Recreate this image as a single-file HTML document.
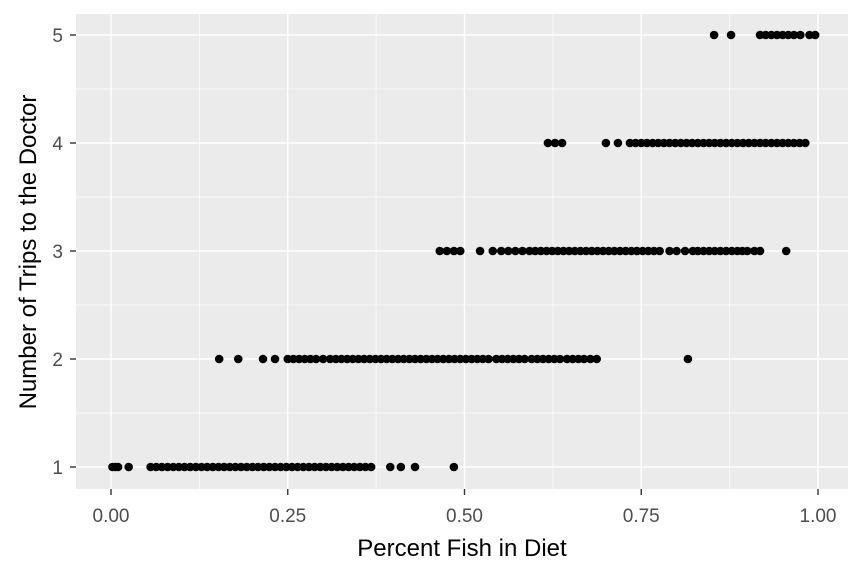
<!DOCTYPE html>
<html><head><meta charset="utf-8"><style>
body{margin:0;background:#fff}
svg text{font-family:"Liberation Sans",sans-serif}
</style></head><body>
<svg id="chart" width="864" height="576" xmlns="http://www.w3.org/2000/svg">
<rect width="864" height="576" fill="#fff"/>
<rect x="76" y="14" width="772" height="475" fill="#EBEBEB"/>
<g id="grid"></g><g id="points"></g><g id="axes"></g>
<text x="462" y="556" font-size="24" text-anchor="middle" fill="#000">Percent Fish in Diet</text>
<text transform="translate(36,252) rotate(-90)" font-size="24" text-anchor="middle" fill="#000">Number of Trips to the Doctor</text>
</svg>
<script>
const xTicks=[0,0.25,0.5,0.75,1];
const xTickLabels=["0.00","0.25","0.50","0.75","1.00"];
const yTicks=[1,2,3,4,5];
const yTickLabels=["1","2","3","4","5"];
const row1=[0.002,0.006,0.01,0.025,0.056,0.064,0.072,0.08,0.088,0.096,0.104,0.112,0.12,0.128,0.136,0.144,0.152,0.16,0.168,0.176,0.184,0.192,0.2,0.208,0.216,0.224,0.232,0.24,0.248,0.256,0.264,0.272,0.28,0.288,0.296,0.304,0.312,0.32,0.328,0.336,0.344,0.352,0.36,0.368,0.395,0.41,0.43,0.485];
const row2=[0.153,0.18,0.215,0.232,0.25,0.258,0.266,0.274,0.282,0.29,0.3,0.31,0.318,0.326,0.334,0.342,0.35,0.358,0.366,0.374,0.382,0.39,0.398,0.406,0.414,0.422,0.43,0.438,0.446,0.454,0.462,0.47,0.478,0.486,0.494,0.502,0.51,0.518,0.526,0.534,0.545,0.553,0.561,0.569,0.577,0.585,0.595,0.603,0.611,0.619,0.627,0.635,0.645,0.653,0.661,0.669,0.678,0.687,0.816];
const row3=[0.465,0.475,0.485,0.494,0.522,0.54,0.552,0.562,0.572,0.582,0.592,0.6,0.608,0.616,0.624,0.632,0.64,0.648,0.656,0.664,0.672,0.68,0.688,0.696,0.704,0.712,0.72,0.728,0.736,0.744,0.752,0.76,0.768,0.776,0.79,0.8,0.812,0.823,0.83,0.838,0.846,0.854,0.862,0.87,0.878,0.886,0.893,0.9,0.91,0.918,0.955];
const row4=[0.618,0.628,0.638,0.7,0.717,0.734,0.742,0.75,0.758,0.766,0.774,0.782,0.79,0.798,0.806,0.814,0.822,0.83,0.838,0.846,0.854,0.862,0.87,0.878,0.886,0.894,0.902,0.91,0.918,0.926,0.934,0.942,0.95,0.958,0.966,0.974,0.982];
const row5=[0.853,0.877,0.918,0.926,0.934,0.942,0.95,0.958,0.966,0.975,0.988,0.996];
const rows=[[1,row1],[2,row2],[3,row3],[4,row4],[5,row5]];
const NS="http://www.w3.org/2000/svg";
const xs=v=>111+v*707, ys=v=>467-(v-1)*108;
function mk(tag,attrs,parent){const e=document.createElementNS(NS,tag);for(const k in attrs)e.setAttribute(k,attrs[k]);parent.appendChild(e);return e;}
const grid=document.getElementById('grid'),pts=document.getElementById('points'),ax=document.getElementById('axes');
for(let i=0;i<xTicks.length-1;i++){const m=(xTicks[i]+xTicks[i+1])/2;
 const l=mk('line',{x1:xs(m),x2:xs(m),y1:14,y2:489,stroke:'#fff','stroke-width':0.7},grid);
 
 }
for(let i=0;i<yTicks.length-1;i++){const m=(yTicks[i]+yTicks[i+1])/2;
 const l=mk('line',{x1:76,x2:848,y1:ys(m),y2:ys(m),stroke:'#fff','stroke-width':0.7},grid);
 
 }
xTicks.forEach((t,i)=>{
 const l=mk('line',{x1:xs(t),x2:xs(t),y1:14,y2:489,stroke:'#fff','stroke-width':1.4},grid);
 
 
 const tk=mk('line',{x1:xs(t),x2:xs(t),y1:489,y2:495,stroke:'#333','stroke-width':1.4},ax);
 
 
 const tx=mk('text',{x:xs(t),y:522,'font-size':19,'text-anchor':'middle',fill:'#4d4d4d'},ax);
 tx.textContent=xTickLabels[i];
 
 });
yTicks.forEach((t,i)=>{
 const l=mk('line',{x1:76,x2:848,y1:ys(t),y2:ys(t),stroke:'#fff','stroke-width':1.4},grid);
 
 
 const tk=mk('line',{x1:70,x2:76,y1:ys(t),y2:ys(t),stroke:'#333','stroke-width':1.4},ax);
 
 
 const tx=mk('text',{x:63,y:ys(t)+7,'font-size':19,'text-anchor':'end',fill:'#4d4d4d'},ax);
 tx.textContent=yTickLabels[i];
 
 });
rows.forEach(([y,arr])=>arr.forEach(x=>{
 const c=mk('circle',{cx:xs(x),cy:ys(y),r:4.3,fill:'#000'},pts);
 
 }));
</script>
</body></html>
